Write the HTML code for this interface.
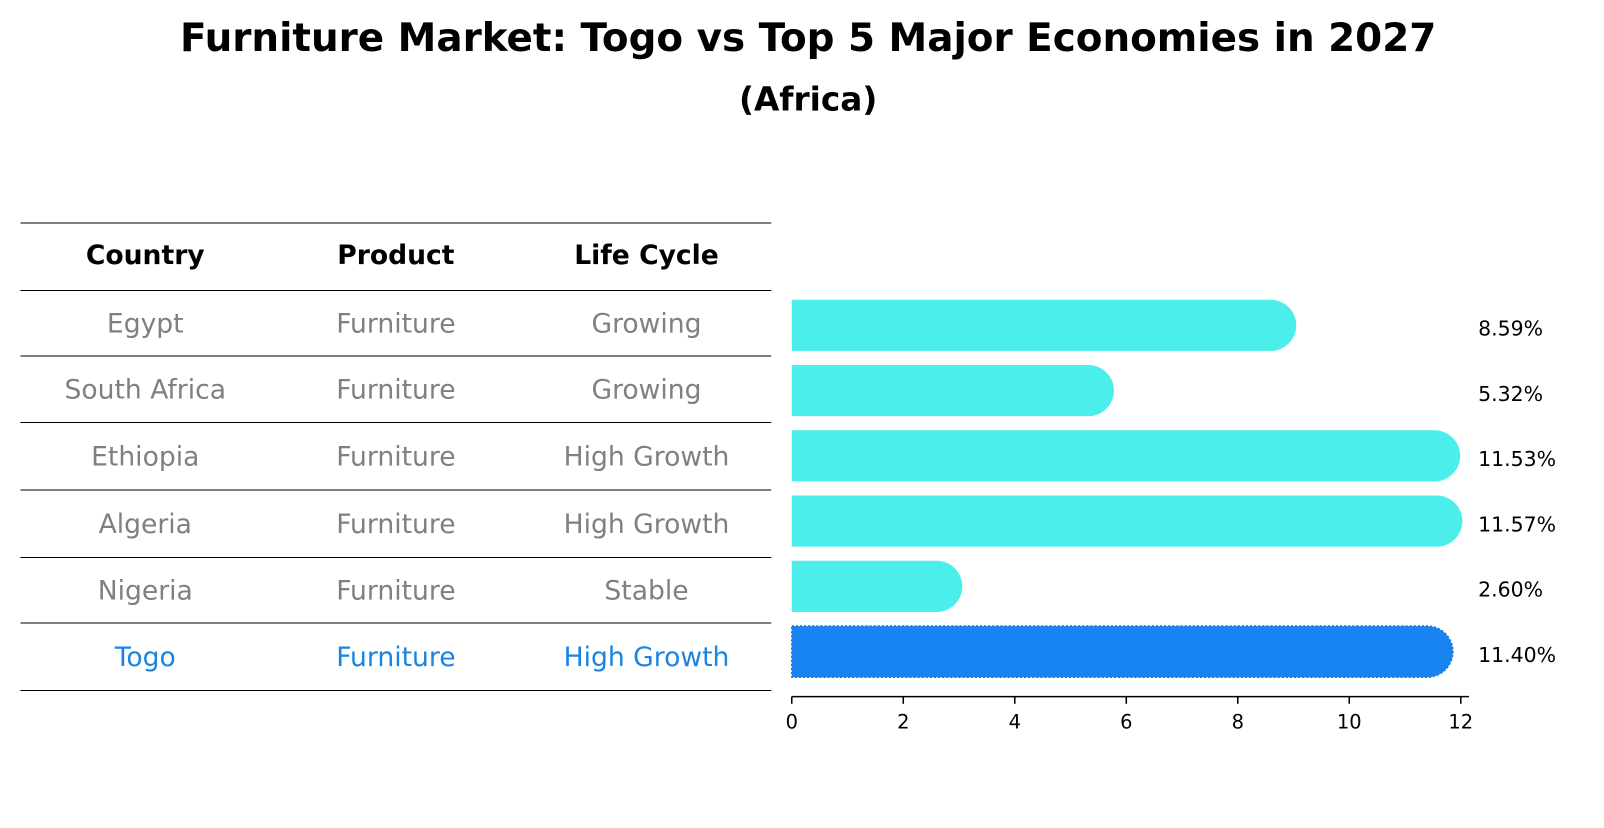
<!DOCTYPE html>
<html><head><meta charset="utf-8"><style>
body{margin:0;background:#fff;font-family:"Liberation Sans","DejaVu Sans",sans-serif}
svg text{font-family:"DejaVu Sans","Liberation Sans",sans-serif}
</style></head><body>
<svg width="1604" height="823" viewBox="0 0 1568 804.5" xmlns="http://www.w3.org/2000/svg">
<text x="790" y="50" text-anchor="middle" font-size="38" font-weight="bold">Furniture Market: Togo vs Top 5 Major Economies in 2027</text>
<text x="790" y="108" text-anchor="middle" font-size="32" font-weight="bold">(Africa)</text>
<g id="table"></g>
<g id="bars"></g>
</svg>
<script>
const countries=["Egypt","South Africa","Ethiopia","Algeria","Nigeria","Togo"];
const products=["Furniture","Furniture","Furniture","Furniture","Furniture","Furniture"];
const lifeCycles=["Growing","Growing","High Growth","High Growth","Stable","High Growth"];
const values=[8.59,5.32,11.53,11.57,2.60,11.40];
const ticks=[0,2,4,6,8,10,12];
const NS="http://www.w3.org/2000/svg";
function mk(t,a,p){const e=document.createElementNS(NS,t);for(const k in a)e.setAttribute(k,a[k]);p.appendChild(e);return e;}
const tbl=document.getElementById('table'),bars=document.getElementById('bars');
const x=v=>774+v*54.5;
const rowY=i=>318+i*63.8;
const lines=[218,284,348,413,479,545,609,675];
lines.forEach(y=>{const l=mk('line',{x1:20,x2:754,y1:y,y2:y,stroke:'#000','stroke-width':1},tbl);

});
const cols=[142,387,632];
["Country","Product","Life Cycle"].forEach((h,j)=>{const t=mk('text',{x:cols[j],y:258,'text-anchor':'middle','font-size':26,'font-weight':'bold'},tbl);t.textContent=h;

});
countries.forEach((c,i)=>{const col=c==="Togo"?"#1a84e0":"#808080";
[c,products[i],lifeCycles[i]].forEach((s,j)=>{const t=mk('text',{x:cols[j],y:(lines[i+1]+lines[i+2])/2+9,'text-anchor':'middle','font-size':26,fill:col},tbl);t.textContent=s;

});
const yc=rowY(i),h=50,r=25,xe=x(values[i]);
const isT=c==="Togo";
const p=mk('path',{d:`M${x(0)},${yc-h/2} H${xe} A${r},${r} 0 0 1 ${xe},${yc+h/2} H${x(0)} Z`,fill:isT?'#1784f2':'#4beeea',stroke:isT?'#2a6fd8':'none','stroke-width':isT?1.5:0,'stroke-dasharray':isT?'2,2':''},bars);


const t=mk('text',{x:1445,y:yc+10,'font-size':20},bars);t.textContent=values[i].toFixed(2)+'%';

});
const ax=mk('line',{x1:774,x2:1436,y1:681,y2:681,stroke:'#000','stroke-width':1.5},bars);


ticks.forEach(v=>{const l=mk('line',{x1:x(v),x2:x(v),y1:681,y2:688,stroke:'#000','stroke-width':1.5},bars);


const t=mk('text',{x:x(v),y:712,'text-anchor':'middle','font-size':19},bars);t.textContent=v;

});
</script>
</body></html>
